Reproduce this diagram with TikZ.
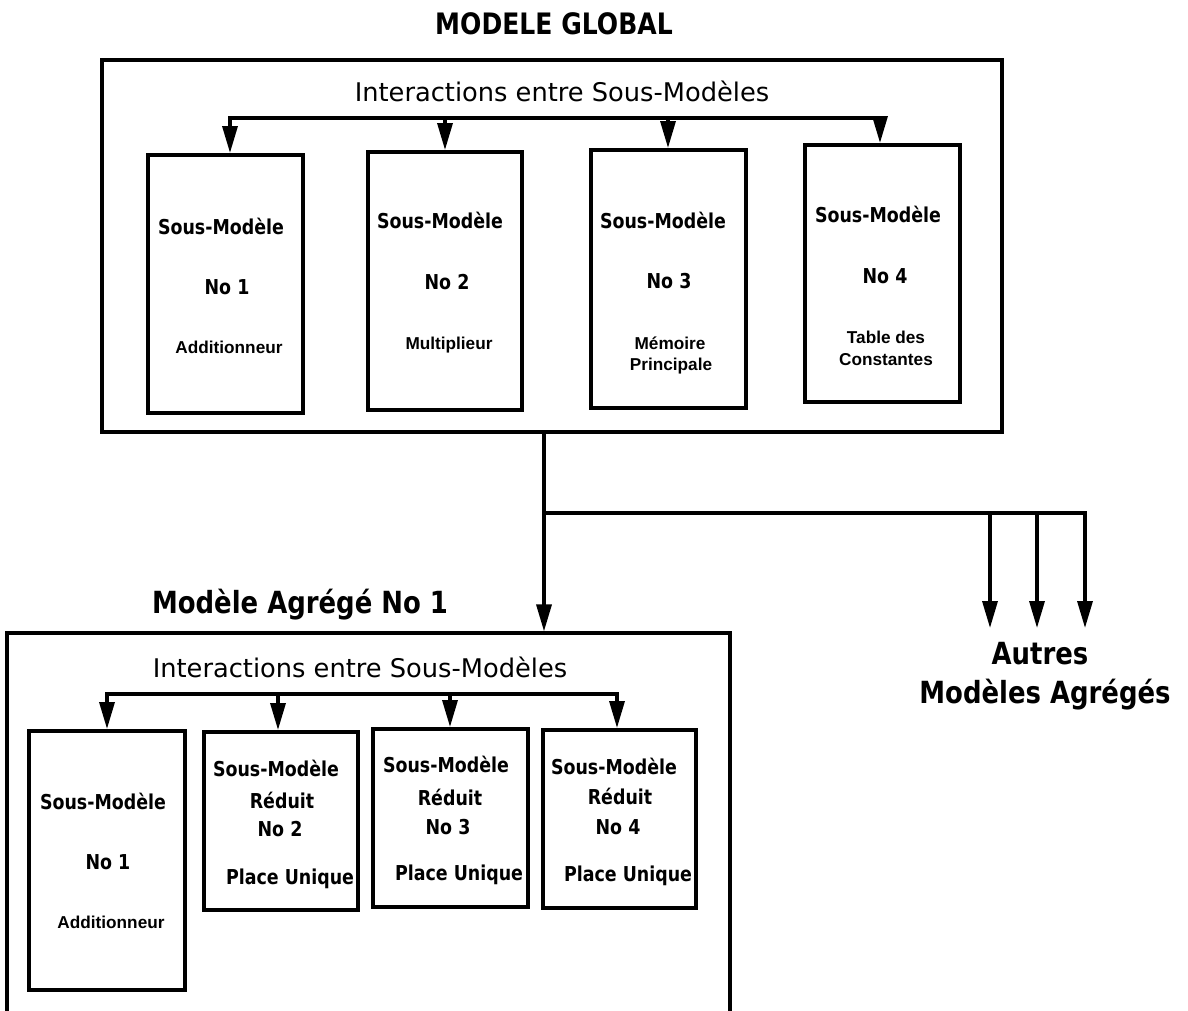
\documentclass[tikz,border=0pt]{standalone}
\usepackage{fontspec}
\usetikzlibrary{arrows.meta}
\newfontfamily\chic[FakeStretch=0.85]{DejaVu Sans}
\newfontfamily\chicreg{DejaVu Sans}
\newfontfamily\helv{Liberation Sans}
\tikzset{
  frame/.style={draw, line width=3.2pt, inner sep=0pt, rectangle},
  sub/.style={draw, line width=4pt, inner sep=0pt, rectangle},
  wire/.style={line width=3.4pt},
  arr/.style={line width=3.4pt, -{Triangle[length=27pt,width=15pt]}},
  bold/.style={font={\chic\bfseries\fontsize{20.5}{24}\selectfont}, inner sep=0pt, text height=15pt, text depth=0pt},
  small/.style={font={\helv\bfseries\fontsize{17.2}{21}\selectfont}, inner sep=0pt, text height=12.5pt, text depth=0pt},
  inter/.style={font={\chicreg\fontsize{25.7}{30}\selectfont}, inner sep=0pt, text height=18.7pt, text depth=0pt},
  big/.style={font={\chic\bfseries\fontsize{30.5}{36}\selectfont}, inner sep=0pt, text height=22pt, text depth=0pt},
  ttl/.style={font={\chic\bfseries\fontsize{29.5}{34}\selectfont}, inner sep=0pt, text height=21.5pt, text depth=0pt},
}
\begin{document}
\begin{tikzpicture}[x=1pt,y=-1pt]
\fill[white] (0,0) rectangle (1188,1010);
\useasboundingbox (0,0) rectangle (1188,1010);

% ---------- MODELE GLOBAL ----------
\node[ttl] (title) at (554,24) {MODELE GLOBAL};
\node[frame, minimum width=900pt, minimum height=372pt] (global) at (552,246) {};
\node[inter] (inter1) at (562,92) {Interactions entre Sous-Modèles};

\node[sub, minimum width=155pt, minimum height=258pt] (b1) at (225.5,284) {};
\node[sub, minimum width=154pt, minimum height=258pt] (b2) at (445,281) {};
\node[sub, minimum width=155pt, minimum height=258pt] (b3) at (668.5,279) {};
\node[sub, minimum width=155pt, minimum height=257pt] (b4) at (882.5,273.5) {};

\node[bold] (b1a) at (221,227) {Sous-Modèle};
\node[bold] (b1b) at (227,287) {No 1};
\node[small] (b1c) at (229,347) {Additionneur};

\node[bold] (b2a) at (440,221) {Sous-Modèle};
\node[bold] (b2b) at (447,282) {No 2};
\node[small] (b2c) at (449,343) {Multiplieur};

\node[bold] (b3a) at (663,221) {Sous-Modèle};
\node[bold] (b3b) at (669,281) {No 3};
\node[small] (b3c) at (670,343) {Mémoire};
\node[small] (b3d) at (671,364) {Principale};

\node[bold] (b4a) at (878,215) {Sous-Modèle};
\node[bold] (b4b) at (885,276) {No 4};
\node[small] (b4c) at (886,337) {Table des};
\node[small] (b4d) at (886,359) {Constantes};

\coordinate (bus1) at (230,118);
\coordinate (bus2) at (445,118);
\coordinate (bus3) at (668,118);
\coordinate (bus4) at (880,118);
\draw[arr] (bus2) -- (bus1) -- (bus1 |- b1.north);
\draw[arr] (bus2) -- (bus4) -- (bus4 |- b4.north);
\draw[arr] (bus2) -- (bus2 |- b2.north);
\draw[arr] (bus3) -- (bus3 |- b3.north);

% ---------- Modele Agrege No 1 ----------
\node[big] (aggtitle) at (300,602) {Modèle Agrégé No 1};
\node[frame, minimum width=723pt, minimum height=383pt] (agg) at (368.5,824.5) {};
\node[inter] (inter2) at (360,668) {Interactions entre Sous-Modèles};

\node[sub, minimum width=156pt, minimum height=259pt] (c1) at (107,860.5) {};
\node[sub, minimum width=154pt, minimum height=178pt] (c2) at (281,821) {};
\node[sub, minimum width=155pt, minimum height=178pt] (c3) at (450.5,818) {};
\node[sub, minimum width=153pt, minimum height=178pt] (c4) at (619.5,819) {};

\node[bold] (c1a) at (103,802) {Sous-Modèle};
\node[bold] (c1b) at (108,862) {No 1};
\node[small] (c1c) at (111,922) {Additionneur};

\node[bold] (c2a) at (276,769) {Sous-Modèle};
\node[bold] (c2b) at (282,801) {Réduit};
\node[bold] (c2c) at (280,829) {No 2};
\node[bold] (c2d) at (290,877) {Place Unique};

\node[bold] (c3a) at (446,765) {Sous-Modèle};
\node[bold] (c3b) at (450,798) {Réduit};
\node[bold] (c3c) at (448,827) {No 3};
\node[bold] (c3d) at (459,873) {Place Unique};

\node[bold] (c4a) at (614,767) {Sous-Modèle};
\node[bold] (c4b) at (620,797) {Réduit};
\node[bold] (c4c) at (618,827) {No 4};
\node[bold] (c4d) at (628,874) {Place Unique};

\coordinate (lb1) at (107,694);
\coordinate (lb2) at (278,694);
\coordinate (lb3) at (450,694);
\coordinate (lb4) at (617,694);
\draw[arr] (lb2) -- (lb1) -- (lb1 |- c1.north);
\draw[arr] (lb2) -- (lb4) -- (lb4 |- c4.north);
\draw[arr] (lb2) -- (lb2 |- c2.north);
\draw[arr] (lb3) -- (lb3 |- c3.north);

% ---------- distribution ----------
\coordinate (j) at (544,513);
\coordinate (r1) at (990,513);
\coordinate (r2) at (1037,513);
\coordinate (r3) at (1085,513);
\coordinate (tips) at (0,628);
\draw[arr] (j |- global.south) -- (j |- agg.north);
\draw[arr] (j) -- (r3) -- (r3 |- tips);
\draw[arr] (r1) -- (r1 |- tips);
\draw[arr] (r2) -- (r2 |- tips);

\node[big] (autres) at (1040,653) {Autres};
\node[big] (autres2) at (1045,692) {Modèles Agrégés};
\end{tikzpicture}
\end{document}
